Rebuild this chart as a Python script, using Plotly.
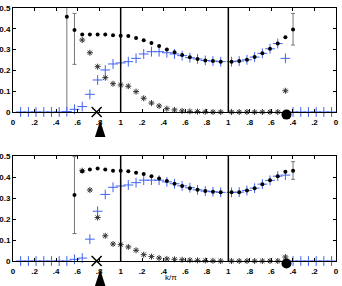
import plotly.graph_objects as go

# k grids (three segments of the path)
K1 = [0.071, 0.143, 0.214, 0.286, 0.357, 0.429, 0.5, 0.571, 0.643, 0.714, 0.786, 0.857, 0.929, 1.0]
K2 = [1.071, 1.143, 1.214, 1.286, 1.357, 1.429, 1.5, 1.571, 1.643, 1.714, 1.786, 1.857, 1.929]
K3 = [2.03, 2.101, 2.173, 2.244, 2.316, 2.387, 2.459, 2.53, 2.601, 2.673, 2.744, 2.816, 2.887, 2.959]

tick_vals = [0, 0.2, 0.4, 0.6, 0.8, 1, 1.2, 1.4, 1.6, 1.8, 2, 2.2, 2.4, 2.6, 2.8, 3]
tick_text = ["0", ".2", ".4", ".6", ".8", "1", ".2", ".4", ".6", ".8", "1", ".8", ".6", ".4", ".2", "0"]
y_ticks = [0, 0.1, 0.2, 0.3, 0.4, 0.5]
y_text = ["0", "0.1", "0.2", "0.3", "0.4", "0.5"]

# ---- top panel ----
top_blue = ([0, 0, 0, 0, 0, 0, 0.002, 0.013, 0.026, 0.085, 0.154, 0.202, 0.231, 0.236]
            + [0.242, 0.258, 0.279, 0.290, 0.290, 0.285, 0.279, 0.271, 0.261, 0.255, 0.248, 0.245, 0.242]
            + [0.242, 0.245, 0.251, 0.264, 0.282, 0.304, 0.329, 0.258, 0, 0, 0, 0, 0, 0])
top_dots = ([0.458, 0.394, 0.373, 0.373, 0.373, 0.372, 0.369, 0.367]
            + [0.365, 0.356, 0.345, 0.332, 0.317, 0.301, 0.287, 0.274, 0.263, 0.255, 0.248, 0.245, 0.242]
            + [0.242, 0.245, 0.251, 0.264, 0.282, 0.304, 0.329, 0.359, 0.397])
top_star = ([0.346, 0.285, 0.218, 0.165, 0.136, 0.130]
            + [0.124, 0.098, 0.066, 0.043, 0.029, 0.016, 0.010, 0.005, 0.003, 0.002, 0.001, 0.0, 0.0]
            + [0, 0, 0, 0, 0, 0, 0, 0.102])
top_err_x = [0.5, 0.571, 2.601]
top_err_y = [0.458, 0.394, 0.397]
top_err_hi = [0.62, 0.474, 0.474]
top_err_lo = [0.0, 0.229, 0.322]

# ---- bottom panel ----
bot_blue = ([0, 0, 0, 0, 0, 0, 0, 0.008, 0.014, 0.104, 0.237, 0.317, 0.351, 0.357]
            + [0.362, 0.373, 0.385, 0.385, 0.385, 0.377, 0.368, 0.358, 0.349, 0.339, 0.333, 0.330, 0.327]
            + [0.327, 0.328, 0.336, 0.347, 0.366, 0.384, 0.404, 0.409, 0, 0, 0, 0, 0, 0])
bot_dots = ([0.314, 0.428, 0.436, 0.441, 0.436, 0.430, 0.430]
            + [0.428, 0.420, 0.414, 0.404, 0.393, 0.381, 0.368, 0.357, 0.347, 0.339, 0.333, 0.330, 0.327]
            + [0.327, 0.328, 0.336, 0.347, 0.366, 0.384, 0.404, 0.425, 0.430])
bot_star = ([0.430, 0.338, 0.207, 0.120, 0.081, 0.078]
            + [0.067, 0.051, 0.030, 0.021, 0.014, 0.010, 0.008, 0.006, 0.004, 0.003, 0.002, 0.001, 0.0]
            + [0, 0, 0, 0, 0, 0, 0, 0.019])
bot_err_x = [0.571, 2.601]
bot_err_y = [0.314, 0.430]
bot_err_hi = [0.497, 0.473]
bot_err_lo = [0.131, 0.389]

# special markers on the k axis (drawn just below the axis)
cross_x = [0.777]
cross_y = [0.0]
arrow_x = [0.81]
arrow_y = [-0.042]
bigdot_x = [2.54]
bigdot_y = [-0.012]

BLUE = "#3f63f2"
STAR = "#333333"
KX = K1 + K2 + K3

# panel geometry (paper fractions)
TOP_DOM = [0.6259, 1.0]
BOT_DOM = [0.0899, 0.4676]
EXT = 0.0752  # paper height of 0.1 y-units
TOP_EXT = [TOP_DOM[0] - EXT, TOP_DOM[1]]
BOT_EXT = [BOT_DOM[0] - EXT, BOT_DOM[1]]

fig = go.Figure()

panels = [
    ("x", "y", "x3", "y3", top_blue, top_dots, top_star, top_err_x, top_err_y, top_err_hi, top_err_lo, K1[6:] + K2 + K3[:9]),
    ("x2", "y2", "x4", "y4", bot_blue, bot_dots, bot_star, bot_err_x, bot_err_y, bot_err_hi, bot_err_lo, K1[7:] + K2 + K3[:9]),
]

for xa, ya, xo, yo, blue, dots, star, ex, ey, ehi, elo, dx in panels:
    fig.add_trace(go.Scatter(
        x=ex, y=ey, mode="markers", xaxis=xa, yaxis=ya,
        marker=dict(size=2, color="black"),
        error_y=dict(type="data", symmetric=False,
                     array=[h - v for h, v in zip(ehi, ey)],
                     arrayminus=[v - l for v, l in zip(ey, elo)],
                     color="#777777", thickness=1, width=2),
        showlegend=False))
    fig.add_trace(go.Scatter(
        x=KX, y=blue, mode="markers", cliponaxis=False, xaxis=xa, yaxis=ya,
        marker=dict(symbol="cross-thin-open", size=7, color=BLUE, line=dict(color=BLUE, width=1)),
        showlegend=False))
    fig.add_trace(go.Scatter(
        x=K1[8:] + K2 + K3[:8], y=star, mode="markers", cliponaxis=False, xaxis=xa, yaxis=ya,
        marker=dict(symbol="asterisk-open", size=5, color=STAR, line=dict(color=STAR, width=1)),
        showlegend=False))
    fig.add_trace(go.Scatter(
        x=dx, y=dots, mode="markers", cliponaxis=False, xaxis=xa, yaxis=ya,
        marker=dict(symbol="circle", size=4, color="black"),
        showlegend=False))
    fig.add_trace(go.Scatter(
        x=arrow_x, y=arrow_y, mode="markers", cliponaxis=False, xaxis=xo, yaxis=yo,
        marker=dict(symbol="arrow", size=17, color="black", line=dict(width=0)),
        showlegend=False))
    fig.add_trace(go.Scatter(
        x=cross_x, y=cross_y, mode="markers", cliponaxis=False, xaxis=xo, yaxis=yo,
        marker=dict(symbol="x-thin-open", size=10, color="black", line=dict(color="black", width=1.5)),
        showlegend=False))
    fig.add_trace(go.Scatter(
        x=bigdot_x, y=bigdot_y, mode="markers", cliponaxis=False, xaxis=xo, yaxis=yo,
        marker=dict(symbol="circle", size=10, color="black"),
        showlegend=False))
    for xv in [1, 2]:
        fig.add_shape(type="line", x0=xv, x1=xv, y0=0, y1=1,
                      xref=xa, yref=ya + " domain",
                      line=dict(color="black", width=1.5))

tick_font = dict(family="Liberation Sans, Arial, sans-serif", size=8, color="black", weight="bold")
xcommon = dict(range=[0, 3], tickvals=tick_vals, ticktext=tick_text,
               showline=True, linecolor="black", linewidth=1, mirror="ticks",
               ticks="inside", ticklen=3, tickcolor="black", showgrid=False,
               zeroline=False, tickfont=tick_font, automargin=False, ticklabelstandoff=2)
ycommon = dict(range=[0, 0.5], tickvals=y_ticks, ticktext=y_text,
               showline=True, linecolor="black", linewidth=1, mirror="ticks",
               ticks="inside", ticklen=3, tickcolor="black", showgrid=False,
               zeroline=False, tickfont=tick_font, automargin=False, ticklabelstandoff=0)
hidden_y = dict(range=[-0.1, 0.5], visible=False, showgrid=False, zeroline=False, fixedrange=True)
hidden_x = dict(range=[0, 3], visible=False, showgrid=False, zeroline=False, fixedrange=True, domain=[0, 1])

fig.update_layout(
    xaxis=dict(domain=[0, 1], anchor="y", **xcommon),
    yaxis=dict(domain=TOP_DOM, anchor="x", **ycommon),
    xaxis2=dict(domain=[0, 1], anchor="y2", **xcommon),
    yaxis2=dict(domain=BOT_DOM, anchor="x2", **ycommon),
    xaxis3=dict(anchor="y3", **hidden_x),
    yaxis3=dict(domain=TOP_EXT, anchor="x3", **hidden_y),
    xaxis4=dict(anchor="y4", **hidden_x),
    yaxis4=dict(domain=BOT_EXT, anchor="x4", **hidden_y),
)

fig.add_annotation(text="k/π", xref="x2", x=1.47, yref="paper", y=0.03, yanchor="middle",
                   showarrow=False,
                   font=dict(family="Liberation Sans, Arial, sans-serif", size=8, color="black"))

fig.update_layout(width=342, height=286, margin=dict(l=13, r=6, t=8, b=0),
                  plot_bgcolor="rgba(0,0,0,0)", paper_bgcolor="white")

fig.write_html("out.html", config={"displayModeBar": False},
               post_script="document.body.style.margin='0';")
